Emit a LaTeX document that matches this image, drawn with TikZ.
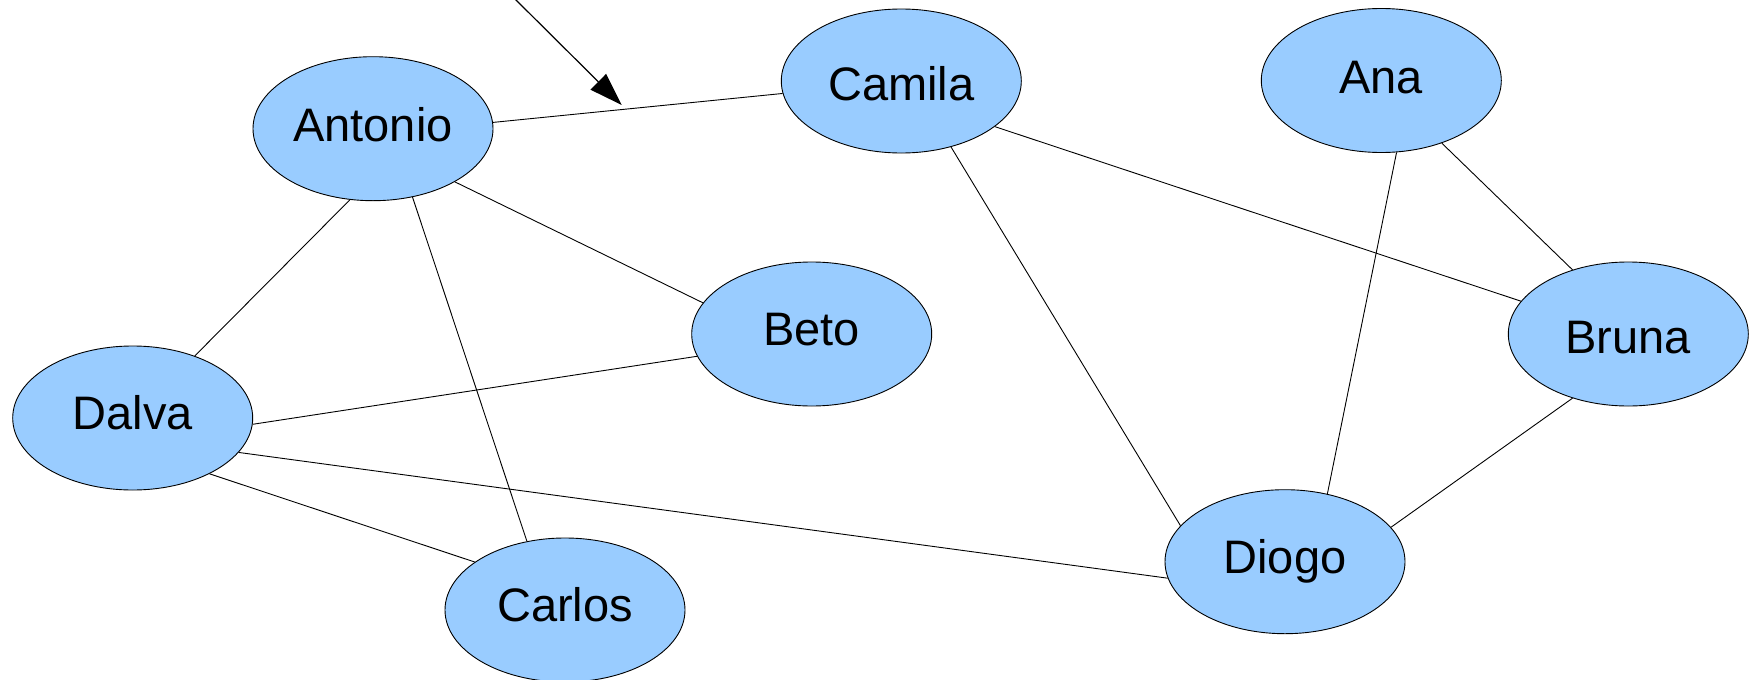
\documentclass[tikz,border=0pt]{standalone}
\usepackage{fontspec}
\setmainfont{Liberation Sans}
\usetikzlibrary{shapes.geometric,arrows.meta}
\definecolor{nodefill}{HTML}{99CCFF}
\tikzset{
  person/.style={ellipse, draw=black, line width=0.9pt, fill=nodefill,
    minimum width=240pt, minimum height=144pt, inner sep=0pt,
    font=\fontsize{47}{56}\selectfont, text depth=0pt, text height=#1},
  person/.default=33.6pt,
  link/.style={line width=0.9pt, draw=black},
  pointer/.style={line width=1.2pt, -{Triangle[length=33pt,width=22pt]}}
}
\begin{document}
\begin{tikzpicture}[x=1pt,y=-1pt]
\useasboundingbox (0,0) rectangle (1754,680);
\node[person=25.3pt] (antonio) at (373,128.7) {Antonio};
\node[person=38.3pt] (camila) at (901.3,81) {Camila};
\node[person=26.1pt] (ana) at (1381.3,80.5) {Ana};
\node[person=23.3pt] (beto) at (811.7,334) {Beto};
\node[person=38.1pt] (bruna) at (1628.3,334) {Bruna};
\node[person=22.1pt] (dalva) at (132.7,418) {Dalva};
\node[person=22.9pt] (diogo) at (1285,561.7) {Diogo};
\node[person=23.7pt] (carlos) at (565,610) {Carlos};
\draw[link] (antonio.3.2) -- (camila.186.7);
\draw[link] (antonio.-33.1) -- (beto.164.3);
\draw[link] (antonio.252.5) -- (dalva.45.2);
\draw[link] (antonio.-60.8) -- (carlos.119.8);
\draw[link] (dalva.-3.9) -- (beto.191.6);
\draw[link] (dalva.-18.2) -- (diogo.188.5);
\draw[link] (dalva.-36.8) -- (carlos.152.7);
\draw[link] (camila.-53.5) -- (diogo.161.8);
\draw[link] (camila.-26.8) -- (bruna.163.8);
\draw[link] (ana.-78.2) -- (diogo.58.4);
\draw[link] (ana.-46) -- (bruna.131.4);
\draw[link] (bruna.229.2) -- (diogo.18.7);
\coordinate (arrowstart) at (514,-2);
\coordinate (arrowtip) at (621.7,105);
\draw[pointer] (arrowstart) -- (arrowtip);
\end{tikzpicture}
\end{document}
